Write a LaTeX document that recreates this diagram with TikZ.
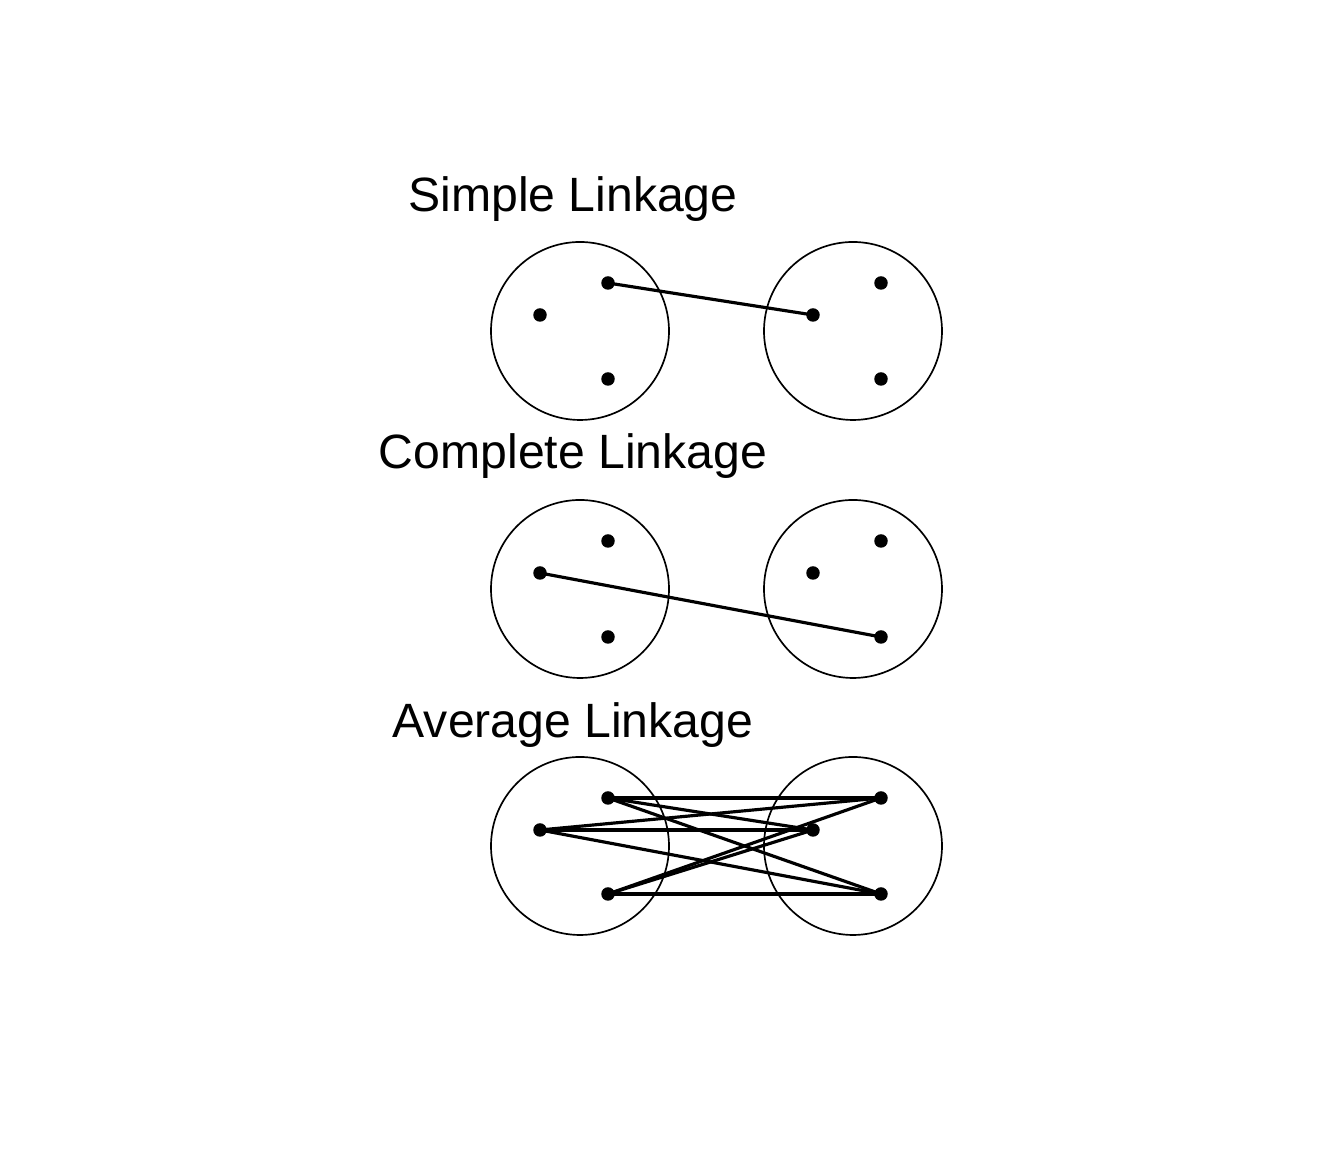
\documentclass[tikz,border=0pt]{standalone}
\usepackage{fontspec}
\setmainfont{Liberation Sans}
\begin{document}
\begin{tikzpicture}[dot/.style={circle,fill=black,inner sep=0pt,minimum size=0.135cm},
 cluster/.style={line width=0.48pt},
 link/.style={line width=0.9pt},
 title/.style={anchor=base,font=\fontsize{13.7pt}{16pt}\selectfont}]
 \useasboundingbox (0,0) rectangle (13.44,11.52);
 % Simple Linkage
 \node[title] (stitle) at (5.73,9.40) {Simple Linkage};
 \draw[cluster] (5.80,8.21) circle (0.89);
 \draw[cluster] (8.53,8.21) circle (0.89);
 \node[dot] (sla) at (6.08,8.69) {};
 \node[dot] (slb) at (5.40,8.37) {};
 \node[dot] (slc) at (6.08,7.73) {};
 \node[dot] (sra) at (8.81,8.69) {};
 \node[dot] (srb) at (8.13,8.37) {};
 \node[dot] (src) at (8.81,7.73) {};
 \draw[link] (sla.center)--(srb.center);
 % Complete Linkage
 \node[title] (ctitle) at (5.73,6.83) {Complete Linkage};
 \draw[cluster] (5.80,5.63) circle (0.89);
 \draw[cluster] (8.53,5.63) circle (0.89);
 \node[dot] (cla) at (6.08,6.11) {};
 \node[dot] (clb) at (5.40,5.79) {};
 \node[dot] (clc) at (6.08,5.15) {};
 \node[dot] (cra) at (8.81,6.11) {};
 \node[dot] (crb) at (8.13,5.79) {};
 \node[dot] (crc) at (8.81,5.15) {};
 \draw[link] (clb.center)--(crc.center);
 % Average Linkage
 \node[title] (atitle) at (5.73,4.14) {Average Linkage};
 \draw[cluster] (5.80,3.06) circle (0.89);
 \draw[cluster] (8.53,3.06) circle (0.89);
 \node[dot] (ala) at (6.08,3.54) {};
 \node[dot] (alb) at (5.40,3.22) {};
 \node[dot] (alc) at (6.08,2.58) {};
 \node[dot] (ara) at (8.81,3.54) {};
 \node[dot] (arb) at (8.13,3.22) {};
 \node[dot] (arc) at (8.81,2.58) {};
 \draw[link] (ala.center)--(ara.center);
 \draw[link] (ala.center)--(arb.center);
 \draw[link] (ala.center)--(arc.center);
 \draw[link] (alb.center)--(ara.center);
 \draw[link] (alb.center)--(arb.center);
 \draw[link] (alb.center)--(arc.center);
 \draw[link] (alc.center)--(ara.center);
 \draw[link] (alc.center)--(arb.center);
 \draw[link] (alc.center)--(arc.center);
\end{tikzpicture}
\end{document}
